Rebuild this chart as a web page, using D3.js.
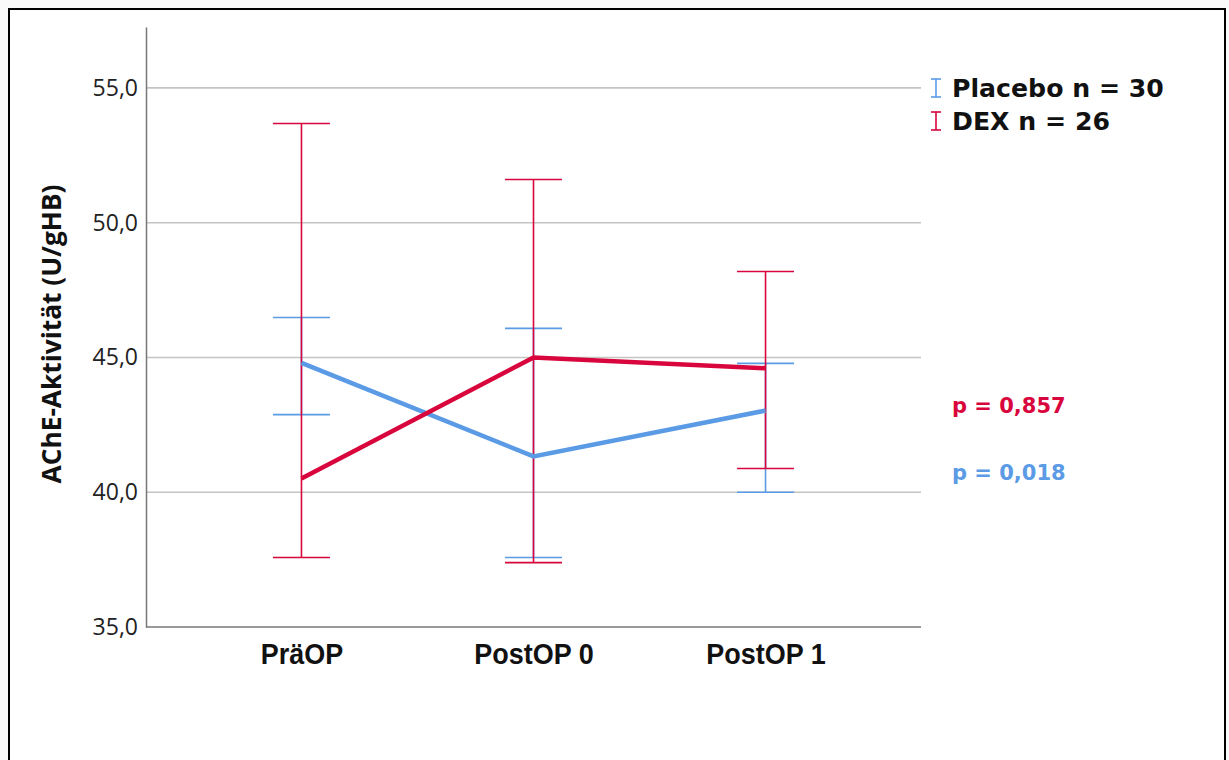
<!DOCTYPE html>
<html>
<head>
<meta charset="utf-8">
<script src="https://cdn.jsdelivr.net/npm/d3@7"></script>
<style>
  html, body { margin: 0; padding: 0; background: #fafafa; }
  svg { display: block; }
</style>
</head>
<body>
<svg id="chart" width="1229" height="760"></svg>
<script>
// Time points
const timepoints = ["PräOP", "PostOP 0", "PostOP 1"];

// Placebo group: mean and 95% CI (U/gHB)
const placeboMean  = [44.8, 41.33, 43.03];
const placeboLower = [42.88, 37.58, 40.0];
const placeboUpper = [46.48, 46.08, 44.78];

// DEX group: mean and 95% CI (U/gHB)
const dexMean  = [40.51, 45.0, 44.6];
const dexLower = [37.58, 37.39, 40.88];
const dexUpper = [53.68, 51.6, 48.19];

// Axis ticks
const yTicks = [35, 40, 45, 50, 55];

// Legend entries and p-values
const legendLabels = ["Placebo n = 30", "DEX n = 26"];
const pLabels = ["p = 0,857", "p = 0,018"];

const blue = "#5b9be6";
const red = "#d8063c";

const svg = d3.select("#chart");

// Frame
svg.append("rect")
  .attr("x", 9).attr("y", 9).attr("width", 1216).attr("height", 760)
  .attr("fill", "#ffffff").attr("stroke", "#000").attr("stroke-width", 2);

const x0 = 146, x1 = 921, yTop = 27, yBot = 627;

const y = d3.scaleLinear().domain([35, 57.26]).range([yBot, yTop]);
const x = d3.scalePoint().domain(timepoints).range([x0, x1]).padding(0.67);

// Gridlines
svg.append("g").selectAll("line")
  .data(yTicks.filter(d => d > 35))
  .join("line")
  .attr("x1", x0).attr("x2", x1)
  .attr("y1", d => y(d)).attr("y2", d => y(d))
  .attr("stroke", "#c4c4c4").attr("stroke-width", 1.6);

// Y axis
const yAxis = d3.axisLeft(y).tickValues(yTicks)
  .tickFormat(d => d3.format(".1f")(d).replace(".", ","))
  .tickSize(0).tickPadding(8);
const gy = svg.append("g").attr("transform", `translate(${x0},0)`).call(yAxis);
gy.select(".domain").attr("stroke", "#777").attr("stroke-width", 1.5);
gy.selectAll("text")
  .attr("font-family", "'Open Sans', sans-serif")
  .attr("font-size", 23).attr("fill", "#222");

// X axis (condensed bold labels)
const xAxis = d3.axisBottom(x).tickSize(0).tickPadding(16);
const gx = svg.append("g").attr("transform", `translate(0,${yBot})`).call(xAxis);
gx.select(".domain").attr("stroke", "#777").attr("stroke-width", 1.5)
  .attr("d", `M${x0},0H${x1}`);
gx.selectAll("text")
  .attr("font-family", "'Liberation Sans', Arial, sans-serif")
  .attr("font-weight", "bold")
  .attr("font-size", 29).attr("fill", "#111")
  .each(function () {
    const w = this.getComputedTextLength();
    d3.select(this).attr("textLength", w * 0.93).attr("lengthAdjust", "spacingAndGlyphs");
  });

// Y axis title
svg.append("text")
  .attr("transform", `translate(61,${(185 + 483) / 2}) rotate(-90)`)
  .attr("text-anchor", "middle")
  .attr("font-family", "'Open Sans', sans-serif")
  .attr("font-weight", "bold")
  .attr("font-size", 26.3).attr("fill", "#111")
  .text("AChE-Aktivität (U/gHB)");

// Error bars
const capHalf = 28.5;
function errorBars(lower, upper, color) {
  const g = svg.append("g").attr("stroke", color).attr("stroke-width", 1.6).attr("fill", "none");
  timepoints.forEach((t, i) => {
    const cx = x(t);
    g.append("line").attr("x1", cx).attr("x2", cx).attr("y1", y(lower[i])).attr("y2", y(upper[i]));
    g.append("line").attr("x1", cx - capHalf).attr("x2", cx + capHalf).attr("y1", y(lower[i])).attr("y2", y(lower[i]));
    g.append("line").attr("x1", cx - capHalf).attr("x2", cx + capHalf).attr("y1", y(upper[i])).attr("y2", y(upper[i]));
  });
}
errorBars(placeboLower, placeboUpper, blue);
errorBars(dexLower, dexUpper, red);

// Mean lines
const line = d3.line().x((d, i) => x(timepoints[i])).y(d => y(d));
svg.append("path").datum(placeboMean).attr("d", line)
  .attr("fill", "none").attr("stroke", blue).attr("stroke-width", 4.5);
svg.append("path").datum(dexMean).attr("d", line)
  .attr("fill", "none").attr("stroke", red).attr("stroke-width", 4.5);

// Legend
const legend = svg.append("g");
[blue, red].forEach((c, i) => {
  const ly = 88 + i * 33;
  const gI = legend.append("g").attr("stroke", c).attr("stroke-width", 1.6);
  gI.append("line").attr("x1", 936).attr("x2", 936).attr("y1", ly - 9).attr("y2", ly + 9);
  gI.append("line").attr("x1", 931).attr("x2", 941).attr("y1", ly - 9).attr("y2", ly - 9);
  gI.append("line").attr("x1", 931).attr("x2", 941).attr("y1", ly + 9).attr("y2", ly + 9);
  legend.append("text")
    .attr("x", 952).attr("y", ly).attr("dy", "0.36em")
    .attr("font-family", "'DejaVu Sans', sans-serif")
    .attr("font-weight", "bold").attr("font-size", 25.2).attr("fill", "#111")
    .text(legendLabels[i]);
});

// p-values
svg.append("text").attr("x", 952).attr("y", 405).attr("dy", "0.36em")
  .attr("font-family", "'DejaVu Sans', sans-serif").attr("font-weight", "bold")
  .attr("font-size", 21).attr("fill", red).text(pLabels[0]);
svg.append("text").attr("x", 952).attr("y", 472).attr("dy", "0.36em")
  .attr("font-family", "'DejaVu Sans', sans-serif").attr("font-weight", "bold")
  .attr("font-size", 21).attr("fill", blue).text(pLabels[1]);
</script>
</body>
</html>
